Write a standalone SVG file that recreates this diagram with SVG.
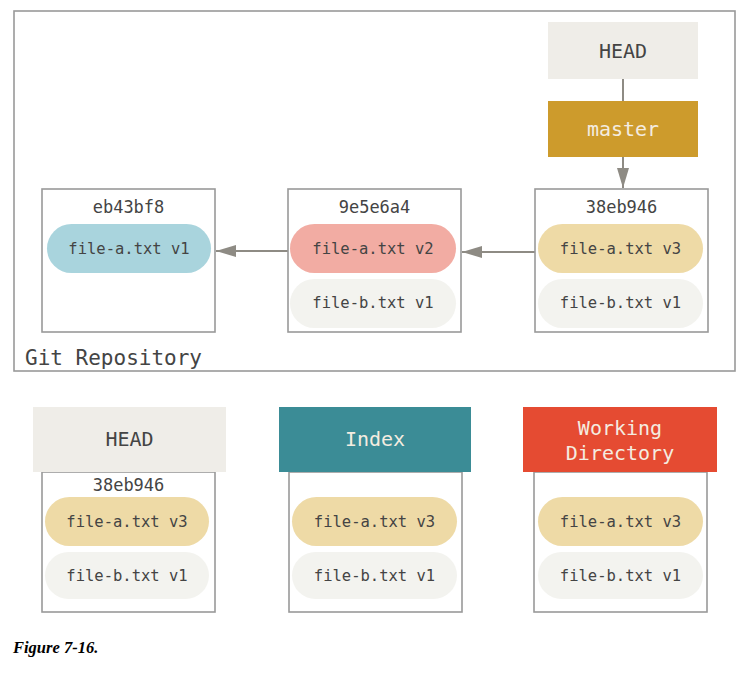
<svg xmlns="http://www.w3.org/2000/svg" width="750" height="677" viewBox="0 0 750 677">
<style>
.box{fill:#fff;stroke:#999;stroke-width:1.6}
.pill{stroke:none}
.a1{fill:#a9d4dd}
.a2{fill:#f2aca3}
.a3{fill:#eedaa6}
.b1{fill:#f3f3ef}
.t{font-family:"DejaVu Sans Mono","Liberation Mono",monospace;fill:#444;text-anchor:middle}
.ft{font-size:15.5px}
.hash{font-size:17px}
.hdr{font-size:20px}
.lt{fill:#f4ece0}
.conn{stroke:#8e8b84;stroke-width:2;fill:none}
</style>
<defs>
<marker id="arr" markerWidth="20" markerHeight="12" refX="20" refY="6" orient="auto" markerUnits="userSpaceOnUse">
<path d="M0,0 L20,6 L0,12 Z" fill="#8e8b84"/>
</marker>
</defs>
<rect width="750" height="677" fill="#fff"/>
<g id="repo">
<rect x="14" y="11" width="721" height="360" fill="none" stroke="#999" stroke-width="1.6"/>
<text x="25" y="365" class="t" style="font-size:21px;text-anchor:start">Git Repository</text>
</g>
<g id="connectors">
<line x1="623" y1="79" x2="623" y2="101" class="conn"/>
<line x1="623" y1="157" x2="623" y2="188" class="conn" marker-end="url(#arr)"/>
<line x1="535" y1="252" x2="462" y2="252" class="conn" marker-end="url(#arr)"/>
<line x1="288" y1="251" x2="216" y2="251" class="conn" marker-end="url(#arr)"/>
</g>
<g id="head-ref">
<rect x="548" y="22" width="150" height="57" fill="#efede8"/>
<text x="623" y="58" class="t hdr" fill="#333">HEAD</text>
</g>
<g id="master">
<rect x="548" y="101" width="150" height="56" fill="#cd9b2c"/>
<text x="623" y="136" class="t hdr lt">master</text>
</g>
<g id="c-eb43bf8">
<rect x="42" y="189" width="173" height="143" class="box"/>
<text x="128.5" y="213" class="t hash">eb43bf8</text>
<rect x="47" y="224" width="164" height="49" rx="24.5" class="pill a1"/>
<text x="129" y="254" class="t ft">file-a.txt v1</text>
</g>
<g id="c-9e5e6a4">
<rect x="288" y="189" width="173" height="143" class="box"/>
<text x="374.5" y="213" class="t hash">9e5e6a4</text>
<rect x="290" y="224" width="166" height="49" rx="24.5" class="pill a2"/>
<text x="373" y="254" class="t ft">file-a.txt v2</text>
<rect x="290" y="279" width="166" height="49" rx="24.5" class="pill b1"/>
<text x="373" y="308" class="t ft">file-b.txt v1</text>
</g>
<g id="c-38eb946">
<rect x="535" y="189" width="173" height="143" class="box"/>
<text x="621.5" y="213" class="t hash">38eb946</text>
<rect x="538" y="224" width="165" height="49" rx="24.5" class="pill a3"/>
<text x="620.5" y="254" class="t ft">file-a.txt v3</text>
<rect x="538" y="279" width="165" height="49" rx="24.5" class="pill b1"/>
<text x="620.5" y="308" class="t ft">file-b.txt v1</text>
</g>
<g id="tree-head">
<rect x="42" y="472" width="173" height="140" class="box"/>
<rect x="33" y="407" width="193" height="65" fill="#efede8"/>
<text x="129.5" y="446" class="t hdr" fill="#333">HEAD</text>
<text x="128.5" y="491" class="t hash">38eb946</text>
<rect x="45" y="497" width="164" height="49" rx="24.5" class="pill a3"/>
<text x="127" y="527" class="t ft">file-a.txt v3</text>
<rect x="45" y="552" width="164" height="47" rx="23.5" class="pill b1"/>
<text x="127" y="581" class="t ft">file-b.txt v1</text>
</g>
<g id="tree-index">
<rect x="289" y="472" width="173" height="140" class="box"/>
<rect x="279" y="407" width="192" height="65" fill="#3b8c96"/>
<text x="375" y="446" class="t hdr lt">Index</text>
<rect x="292" y="497" width="165" height="49" rx="24.5" class="pill a3"/>
<text x="374.5" y="527" class="t ft">file-a.txt v3</text>
<rect x="292" y="552" width="165" height="47" rx="23.5" class="pill b1"/>
<text x="374.5" y="581" class="t ft">file-b.txt v1</text>
</g>
<g id="tree-wd">
<rect x="534" y="472" width="173" height="140" class="box"/>
<rect x="523" y="407" width="194" height="65" fill="#e54b32"/>
<text x="620" y="435" class="t hdr lt">Working</text>
<text x="620" y="460" class="t hdr lt">Directory</text>
<rect x="538" y="497" width="165" height="49" rx="24.5" class="pill a3"/>
<text x="620.5" y="527" class="t ft">file-a.txt v3</text>
<rect x="538" y="552" width="165" height="47" rx="23.5" class="pill b1"/>
<text x="620.5" y="581" class="t ft">file-b.txt v1</text>
</g>
<text x="13" y="653" style="font-family:'Liberation Serif',serif;font-weight:bold;font-style:italic;font-size:16.5px" fill="#000">Figure 7-16.</text>
</svg>
